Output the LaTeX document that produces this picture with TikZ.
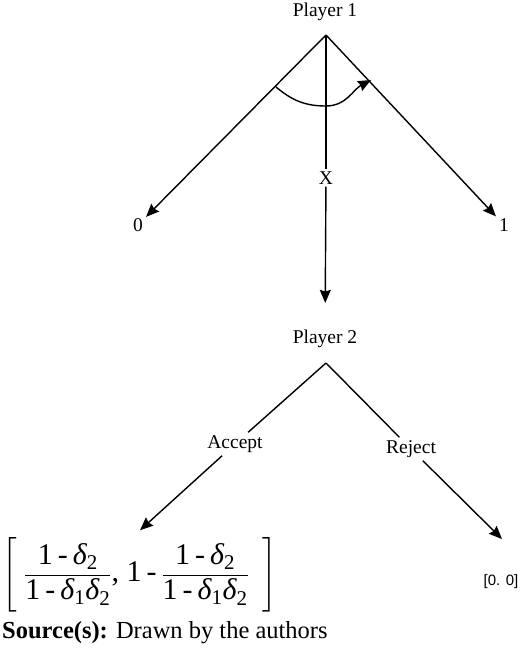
\documentclass[tikz,border=0pt]{standalone}
\usepackage{amsmath}
\usepackage{fontspec}
\setmainfont{Liberation Serif}
\newfontfamily\arialfont{Liberation Sans}
\usetikzlibrary{arrows.meta}
\newcommand{\dlt}[1]{\text{\itshape δ}_{\text{#1}}}

\begin{document}
\begin{tikzpicture}[x=1pt, y=-1pt,
                lbl/.style={font=\fontsize{19.5}{22}\selectfont, inner sep=3pt},
                edge/.style={line width=1.4pt},
                ->, >={Stealth[length=13pt, width=11pt, inset=1.5pt]}
            ]
            \useasboundingbox (0,0) rectangle (520,655);

            % Nodes
            \node[lbl] (p1) at (325,12) {Player 1};
            \coordinate (root) at (326,35);
            \node[lbl] (zero) at (138,225) {0};
            \node[lbl] (one) at (504,225) {1};
            \node[lbl, inner sep=2pt] (xlab) at (326,178) {X};
            \node[lbl] (p2) at (325,339) {Player 2};
            \coordinate (root2) at (326,363);
            \node[lbl] (acc) at (235,444) {Accept};
            \node[lbl] (rej) at (411,449) {Reject};
            \node[font=\fontsize{30}{34}\selectfont, inner sep=5pt] (pay) at (140,574)
                {$\left[\rule[-31pt]{0pt}{77pt}\;\dfrac{\text{1\,-\,}\dlt{2}}{\text{1\,-\,}\dlt{1}\dlt{2}}\text{, 1\,-\,}\dfrac{\text{1\,-\,}\dlt{2}}{\text{1\,-\,}\dlt{1}\dlt{2}}\;\;\right]$};
            \node[font=\arialfont\fontsize{15}{17}\selectfont] (zz) at (501,582) {[0. 0]};
            \coordinate (rejend) at (502,539);

            % Source line
            \node[anchor=west, font=\fontsize{24.5}{28}\selectfont, inner sep=0pt] (src) at (2,633)
                {\textbf{Source(s):} Drawn by the authors};

            % Edges
            \draw[edge] (root) -- (zero);
            \draw[edge] (root) -- (one);
            \draw[edge, -] (root) -- (xlab);
            \draw[edge, shorten >=24pt] (xlab) -- (p2);
            \draw[edge, -] (root2) -- (acc);
            \draw[edge] (acc) -- (pay.north);
            \draw[edge, -] (root2) -- (rej);
            \draw[edge] (rej) -- (rejend);

            % Arc
            \draw[edge] (276,87) to[out=-40, in=180] (326,106) to[out=0, in=208] (371,80);

\end{tikzpicture}
\end{document}
